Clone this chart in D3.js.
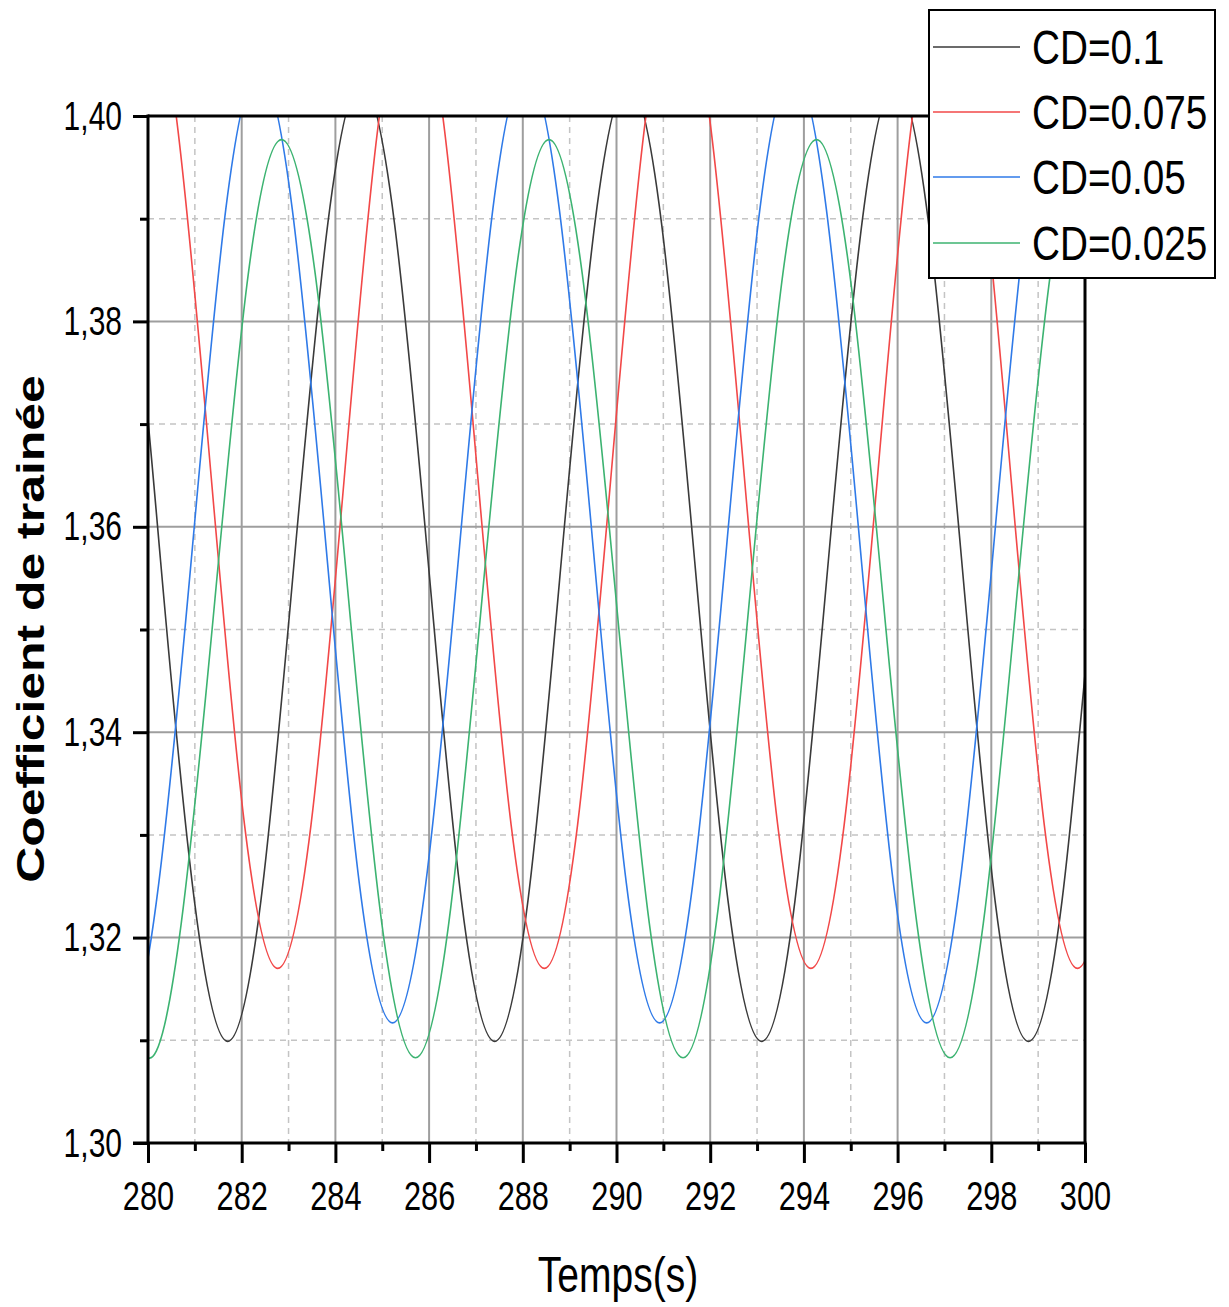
<!DOCTYPE html>
<html><head><meta charset="utf-8">
<script src="https://cdn.jsdelivr.net/npm/d3@7"></script>
<style>
html,body{margin:0;padding:0;background:#fff;}
svg{display:block;}
text{font-family:"Liberation Sans",Arial,sans-serif;fill:#000;}
</style></head>
<body>
<svg id="chart" width="1229" height="1307"></svg>
<script>
// ---- data ----
const xTicks = [280,282,284,286,288,290,292,294,296,298,300];
const yTicks = [1.30,1.32,1.34,1.36,1.38,1.40];
const seriesNames = ["CD=0.1","CD=0.075","CD=0.05","CD=0.025"];
const seriesColors = ["#3a3a3a","#f24848","#2f7ae8","#3cb371"];

const tBlack = [278.85,279.56,280.27,280.99,281.70,282.41,283.12,283.84,284.55,285.26,285.98,286.69,287.40,288.11,288.82,289.54,290.25,290.96,291.67,292.38,293.10,293.81,294.52,295.24,295.95,296.66,297.37,298.08,298.79,299.51,300.22,300.93];
const vBlack = [1.4033,1.3896,1.3566,1.3236,1.3099,1.3236,1.3566,1.3896,
                1.4033,1.3896,1.3566,1.3236,1.3099,1.3236,1.3566,1.3896,
                1.4033,1.3896,1.3566,1.3236,1.3099,1.3236,1.3566,1.3896,
                1.4033,1.3896,1.3566,1.3236,1.3099,1.3236,1.3566,1.3896];

const tRed = [279.22,279.93,280.64,281.35,282.06,282.77,283.48,284.19,284.90,285.62,286.33,287.04,287.75,288.46,289.17,289.88,290.59,291.30,292.02,292.73,293.44,294.15,294.86,295.57,296.28,296.99,297.71,298.42,299.13,299.84,300.55,301.26];
const vRed = [1.3986,1.4126,1.3986,1.3648,1.3310,1.3170,1.3310,1.3648,
              1.3986,1.4126,1.3986,1.3648,1.3310,1.3170,1.3310,1.3648,
              1.3986,1.4126,1.3986,1.3648,1.3310,1.3170,1.3310,1.3648,
              1.3986,1.4126,1.3986,1.3648,1.3310,1.3170,1.3310,1.3648];

const tBlue = [278.81,279.52,280.23,280.95,281.66,282.37,283.08,283.80,284.51,285.22,285.93,286.65,287.36,288.07,288.78,289.50,290.21,290.92,291.63,292.35,293.06,293.77,294.48,295.20,295.91,296.62,297.33,298.05,298.76,299.47,300.18,300.90];
const vBlue = [1.3253,1.3117,1.3253,1.3581,1.3909,1.4045,1.3909,1.3581,
               1.3253,1.3117,1.3253,1.3581,1.3909,1.4045,1.3909,1.3581,
               1.3253,1.3117,1.3253,1.3581,1.3909,1.4045,1.3909,1.3581,
               1.3253,1.3117,1.3253,1.3581,1.3909,1.4045,1.3909,1.3581];

const tGreen = [279.29,280.00,280.71,281.43,282.14,282.85,283.57,284.28,284.99,285.71,286.42,287.13,287.85,288.56,289.27,289.99,290.70,291.42,292.13,292.84,293.55,294.27,294.98,295.69,296.41,297.12,297.83,298.54,299.26,299.97,300.68,301.40];
const vGreen = [1.3214,1.3083,1.3214,1.3530,1.3846,1.3977,1.3846,1.3530,
                1.3214,1.3083,1.3214,1.3530,1.3846,1.3977,1.3846,1.3530,
                1.3214,1.3083,1.3214,1.3530,1.3846,1.3977,1.3846,1.3530,
                1.3214,1.3083,1.3214,1.3530,1.3846,1.3977,1.3846,1.3530];

const seriesT = [tBlack,tRed,tBlue,tGreen];
const seriesV = [vBlack,vRed,vBlue,vGreen];

// ---- layout ----
const L=148, R=1085, T=116, B=1143;
const SX = 0.75; // horizontal text compression
const svg = d3.select("#chart");
const x = d3.scaleLinear().domain([280,300]).range([L,R]);
const y = d3.scaleLinear().domain([1.30,1.40]).range([B,T]);

svg.append("rect").attr("width",1229).attr("height",1307).attr("fill","#fff");

// minor grid
const xMinor = d3.range(281,300,2);
const yMinor = [1.31,1.33,1.35,1.37,1.39];
const grid = svg.append("g");
grid.selectAll(".xm").data(xMinor).enter().append("line")
  .attr("x1",d=>x(d)).attr("x2",d=>x(d)).attr("y1",T).attr("y2",B)
  .attr("stroke","#c4c4c4").attr("stroke-width",1.5).attr("stroke-dasharray","6,5");
grid.selectAll(".ym").data(yMinor).enter().append("line")
  .attr("y1",d=>y(d)).attr("y2",d=>y(d)).attr("x1",L).attr("x2",R)
  .attr("stroke","#c4c4c4").attr("stroke-width",1.5).attr("stroke-dasharray","6,5");
// major grid
grid.selectAll(".xM").data(xTicks.slice(1,-1)).enter().append("line")
  .attr("x1",d=>x(d)).attr("x2",d=>x(d)).attr("y1",T).attr("y2",B)
  .attr("stroke","#9e9e9e").attr("stroke-width",2);
grid.selectAll(".yM").data(yTicks.slice(1,-1)).enter().append("line")
  .attr("y1",d=>y(d)).attr("y2",d=>y(d)).attr("x1",L).attr("x2",R)
  .attr("stroke","#9e9e9e").attr("stroke-width",2);

// curves
svg.append("clipPath").attr("id","clip").append("rect")
  .attr("x",L).attr("y",T).attr("width",R-L).attr("height",B-T);
const line = d3.line().x(d=>x(d[0])).y(d=>y(d[1])).curve(d3.curveNatural);
const curves = svg.append("g").attr("clip-path","url(#clip)");
seriesT.forEach((ts,i)=>{
  const pts = ts.map((t,j)=>[t,seriesV[i][j]]);
  curves.append("path").datum(pts).attr("d",line)
    .attr("fill","none").attr("stroke",seriesColors[i]).attr("stroke-width",1.6);
});

// frame top/right
svg.append("line").attr("x1",L).attr("x2",R+1.5).attr("y1",T).attr("y2",T).attr("stroke","#000").attr("stroke-width",3);
svg.append("line").attr("x1",R).attr("x2",R).attr("y1",T).attr("y2",B).attr("stroke","#000").attr("stroke-width",3);

// axes
const yAxisMinor = d3.axisLeft(y).tickValues(yMinor).tickSize(8).tickFormat("");
const yAxis = d3.axisLeft(y).tickValues(yTicks).tickSize(15).tickSizeOuter(0)
  .tickFormat(d=>d3.format(".2f")(d).replace(".",","));
const gyMinor = svg.append("g").attr("transform",`translate(${L},0)`).call(yAxisMinor);
const gy = svg.append("g").attr("transform",`translate(${L},0)`).call(yAxis);
const xAxisMinor = d3.axisBottom(x).tickValues(xMinor).tickSize(8).tickFormat("");
const xAxis = d3.axisBottom(x).tickValues(xTicks).tickSize(20).tickSizeOuter(0).tickFormat(d3.format("d"));
const gxMinor = svg.append("g").attr("transform",`translate(0,${B})`).call(xAxisMinor);
const gx = svg.append("g").attr("transform",`translate(0,${B})`).call(xAxis);

[gy,gyMinor,gx,gxMinor].forEach(g=>{
  g.selectAll("path.domain").attr("stroke","#000").attr("stroke-width",3);
  g.selectAll(".tick line").attr("stroke","#000").attr("stroke-width",3);
});
gyMinor.select("path.domain").remove();
gxMinor.select("path.domain").remove();
gy.select("path.domain").attr("d",`M0,${B+1.5}V${T-1.5}`);
gx.select("path.domain").attr("d",`M${L-15},0H${R+1.5}`);

gy.selectAll(".tick text")
  .attr("font-size",40).attr("font-family","Liberation Sans, Arial, sans-serif")
  .attr("fill","#000")
  .attr("x",-26/SX).attr("dy",null).attr("y",13)
  .attr("transform",`scale(${SX},1)`);
gx.selectAll(".tick text")
  .attr("font-size",41).attr("font-family","Liberation Sans, Arial, sans-serif")
  .attr("fill","#000")
  .attr("dy",null).attr("y",67)
  .attr("transform",`scale(${SX},1)`);

// axis titles
svg.append("text").attr("transform",`translate(618,1292) scale(0.78,1)`)
  .attr("text-anchor","middle").attr("font-size",50).text("Temps(s)");
svg.append("text").attr("transform",`translate(44,629) rotate(-90) scale(1.28,1)`)
  .attr("text-anchor","middle").attr("font-size",39).attr("font-weight","bold").text("Coefficient de trainée");

// legend
const lg = svg.append("g");
lg.append("rect").attr("x",929).attr("y",10).attr("width",286).attr("height",268)
  .attr("fill","#fff").attr("stroke","#000").attr("stroke-width",2);
const legY = [47,112,177,243];
seriesNames.forEach((n,i)=>{
  lg.append("line").attr("x1",933).attr("x2",1020).attr("y1",legY[i]).attr("y2",legY[i])
    .attr("stroke",seriesColors[i]).attr("stroke-width",1.6);
  lg.append("text").attr("transform",`translate(1032,${legY[i]+17}) scale(0.79,1)`)
    .attr("font-size",49).text(n);
});
</script>
</body></html>
